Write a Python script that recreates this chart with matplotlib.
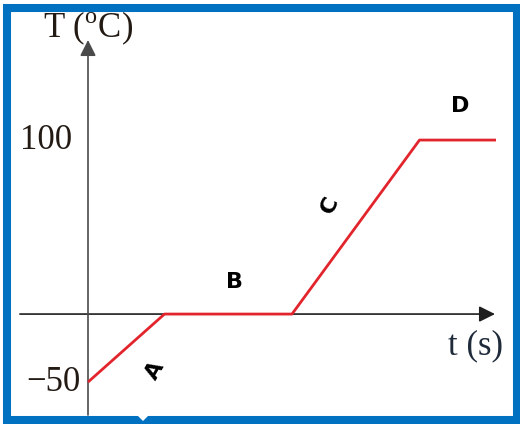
import numpy as np
import matplotlib
matplotlib.use('Agg')
import matplotlib.pyplot as plt
from matplotlib.patches import Rectangle, Polygon

plt.rcParams['mathtext.fontset'] = 'custom'
plt.rcParams['mathtext.rm'] = 'Liberation Serif'

# datos del grafico (curva de calentamiento, esquematica)
tiempos = [0, 3, 8, 13, 16]
temperaturas = [-50, 0, 0, 100, 100]
marcas_y = [100, -50]
tramos = ['A', 'B', 'C', 'D']

# el dibujo original no esta a escala: la parte negativa va comprimida
def adelante(y):
    y = np.asarray(y, dtype=float)
    return np.where(y < 0, y * 0.782, y)

def atras(y):
    y = np.asarray(y, dtype=float)
    return np.where(y < 0, y / 0.782, y)

fig = plt.figure(figsize=(5.2, 4.24), dpi=100)
ax = fig.add_axes([0, 0, 1, 1])
ax.axis('off')
ax.set_xlim(-88 / 25.5, 432 / 25.5)
ax.set_yscale('function', functions=(adelante, atras))
ax.set_ylim(-80.8, 180.5)

serif = 'Liberation Serif'

# ejes con flecha
ax.annotate('', xy=(15.96, 0), xytext=(-2.67, 0),
            arrowprops=dict(arrowstyle='-|>', color='#1e1e1e', lw=1.2,
                            mutation_scale=24, shrinkA=0, shrinkB=0))
ax.annotate('', xy=(0, 157.5), xytext=(0, -74.2),
            arrowprops=dict(arrowstyle='-|>', color='#4a4a4a', lw=1.2,
                            mutation_scale=24, shrinkA=0, shrinkB=0))

# curva
ax.plot(tiempos, temperaturas, color='#e2252d', lw=2.0, solid_capstyle='butt',
        zorder=3)

# etiquetas del eje T
ax.text(-0.63, marcas_y[0], str(marcas_y[0]), ha='right', va='center',
        fontsize=25, family=serif, color='#231a14')
ax.text(-0.31, marcas_y[1], '\u2212' + str(abs(marcas_y[1])), ha='right',
        va='center', fontsize=25, family=serif, color='#231a14')

ax.text(0, 159, 'T ($^{\\mathrm{o}}$C)', ha='center', va='baseline', fontsize=25,
        family=serif, color='#231a14')
ax.text(15.2, -23.5, 't (s)', ha='center', va='center', fontsize=25,
        family=serif, color='#1f2a3a')

# nombres de los tramos
pos_tramos = [(2.63, -41.2, 60), (5.73, 18.4, 0), (9.49, 62.6, 65), (14.6, 119.5, 0)]
for nombre, (x, y, rot) in zip(tramos, pos_tramos):
    ax.text(x, y, nombre, ha='center', va='center', fontsize=16,
            fontweight='bold', rotation=rot, color='black')

# marco azul
fig.patches.append(Rectangle((7 / 520, 4 / 424), 510 / 520, 412 / 424,
                             transform=fig.transFigure, fill=False,
                             edgecolor='#0070c0', lw=5.8, zorder=5))
fig.patches.append(Polygon([(137 / 520, 1 - 415 / 424), (149 / 520, 1 - 415 / 424),
                            (143 / 520, 1 - 421 / 424)], closed=True,
                           transform=fig.transFigure, facecolor='white',
                           edgecolor='none', zorder=6))

fig.savefig('out.png', dpi=100)
